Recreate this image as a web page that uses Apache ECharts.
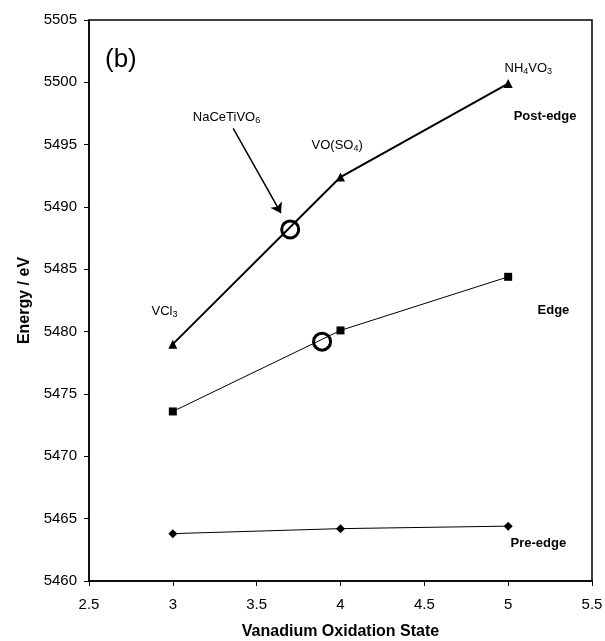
<!DOCTYPE html>
<html lang="en">
<head>
	<meta charset="UTF-8">
	<title>Vanadium edge energies</title>
	<script src="https://cdn.jsdelivr.net/npm/echarts@6/dist/echarts.min.js"></script>
</head>
<body style="margin:0">
	<div id="main" style="width: 605px;height: 641px"></div>
	<script>
		// oxidation states and measured energies
		var oxStates = [3, 4, 5];
		var postEdge = [5479.0, 5492.4, 5499.9];
		var edge = [5473.6, 5480.1, 5484.4];
		var preEdge = [5463.8, 5464.2, 5464.4];

		// NaCeTiVO6 sample, open circles
		var sampleX = [3.7, 3.89];
		var sampleY = [5488.2, 5479.2];

		// text annotations (data coords)
		var noteText = ['{n|NaCeTiVO}{s|6}', '{n|VO(SO}{s|4}{n|)}', '{n|NH}{s|4}{n|VO}{s|3}', '{n|VCl}{s|3}', '{b|Post-edge}', '{b|Edge}', '{b|Pre-edge}', '{big|(b)}'];
		var noteX = [3.32, 3.98, 5.12, 2.95, 5.22, 5.27, 5.18, 2.69];
		var noteY = [5497.2, 5494.9, 5501.1, 5481.6, 5497.3, 5481.7, 5463.0, 5501.8];

		// arrow from label to sample point
		var arrowFrom = [3.36, 5496.3];
		var arrowTo = [3.645, 5489.5];

		function pairs(xs, ys) {
			return xs.map(function (x, i) { return [x, ys[i]]; });
		}

		var myChart = echarts.init(document.getElementById('main'));
		var font = 'Liberation Sans, Arial, sans-serif';

		var option = {
			animation: false,
			textStyle: { fontFamily: font },
			grid: {
				left: 89,
				right: 13,
				top: 20,
				bottom: 60,
				outerBoundsMode: 'none',
				containLabel: false,
				show: true,
				borderColor: '#000',
				borderWidth: 1.5
			},
			xAxis: {
				type: 'value',
				min: 2.5,
				max: 5.5,
				interval: 0.5,
				name: 'Vanadium Oxidation State',
				nameLocation: 'middle',
				nameGap: 43,
				nameTextStyle: { fontSize: 16, fontWeight: 'bold', color: '#000', fontFamily: font },
				axisLine: { lineStyle: { color: '#000', width: 1.5 } },
				axisTick: { length: 5, lineStyle: { color: '#000' } },
				axisLabel: { fontSize: 15, color: '#000', margin: 16 },
				splitLine: { show: false }
			},
			yAxis: {
				type: 'value',
				min: 5460,
				max: 5505,
				interval: 5,
				name: 'Energy / eV',
				nameLocation: 'middle',
				nameGap: 53,
				nameTextStyle: { fontSize: 16, fontWeight: 'bold', color: '#000', fontFamily: font },
				axisLine: { lineStyle: { color: '#000', width: 1.5 } },
				axisTick: { length: 5, lineStyle: { color: '#000' } },
				axisLabel: { fontSize: 15, color: '#000', margin: 12, formatter: function (v) { return String(v); } },
				splitLine: { show: false }
			},
			series: [
				{
					name: 'Post-edge',
					type: 'line',
					data: pairs(oxStates, postEdge),
					symbol: 'triangle',
					symbolSize: 9,
					itemStyle: { color: '#000' },
					lineStyle: { color: '#000', width: 2 }
				},
				{
					name: 'Edge',
					type: 'line',
					data: pairs(oxStates, edge),
					symbol: 'rect',
					symbolSize: 8,
					itemStyle: { color: '#000' },
					lineStyle: { color: '#000', width: 1 }
				},
				{
					name: 'Pre-edge',
					type: 'line',
					data: pairs(oxStates, preEdge),
					symbol: 'diamond',
					symbolSize: 9,
					itemStyle: { color: '#000' },
					lineStyle: { color: '#000', width: 1 }
				},
				{
					name: 'NaCeTiVO6',
					type: 'scatter',
					data: pairs(sampleX, sampleY),
					symbol: 'circle',
					symbolSize: 17,
					itemStyle: { color: 'rgba(0,0,0,0)', borderColor: '#000', borderWidth: 3, opacity: 1 },
					z: 5,
					markLine: {
						silent: true,
						symbol: ['none', 'arrow'],
						symbolSize: 10,
						label: { show: false },
						lineStyle: { color: '#000', width: 1.5, type: 'solid', opacity: 1 },
						data: [[{ coord: arrowFrom }, { coord: arrowTo }]]
					}
				},
				{
					name: 'notes',
					type: 'scatter',
					symbolSize: 0,
					silent: true,
					itemStyle: { opacity: 1 },
					data: noteX.map(function (x, i) {
						return { value: [x, noteY[i]], text: noteText[i] };
					}),
					label: {
						show: true,
						position: 'inside',
						color: '#000',
						formatter: function (p) { return p.data.text; },
						rich: {
							n: { fontSize: 13, color: '#000', fontFamily: font },
							s: { fontSize: 9, color: '#000', fontFamily: font, padding: [6, 0, 0, 0] },
							b: { fontSize: 13, fontWeight: 'bold', color: '#000', fontFamily: font },
							big: { fontSize: 26, color: '#000', fontFamily: font }
						}
					}
				}
			]
		};

		myChart.setOption(option);
	</script>
</body>
</html>
